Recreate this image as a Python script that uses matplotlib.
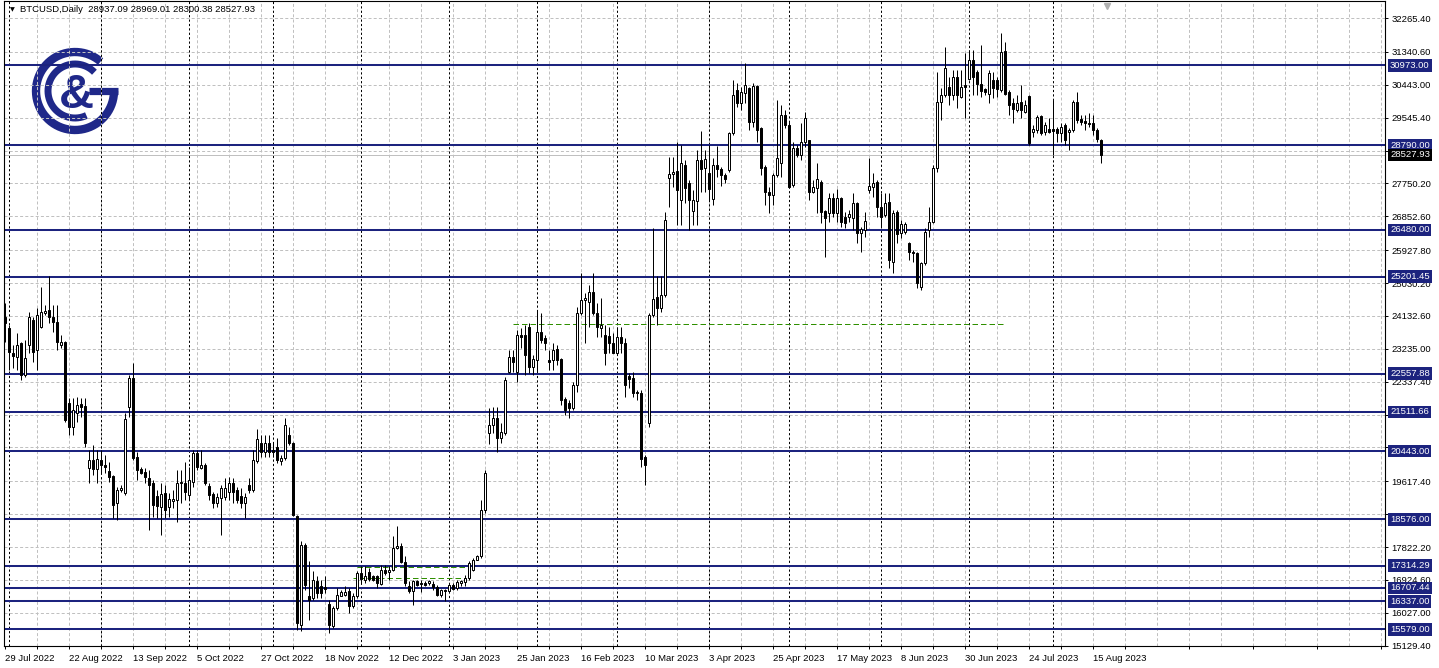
"""BTCUSD daily candlestick chart with horizontal support/resistance levels."""
import matplotlib
matplotlib.use("Agg")
import matplotlib.pyplot as plt
import numpy as np
import pandas as pd

# ---- data -------------------------------------------------------------
first_day = "2022-07-29"   # first bar, weekday bars only

opens = [
    24114, 23796, 23113, 23022, 23386, 22521, 23341, 24023, 23204, 23841,
    24205, 24296, 24114, 23978, 23341, 23432, 21748, 21111, 21475, 21721,
    21675, 19974, 20201, 19946, 20201, 20065, 19910, 19764, 19018, 19382,
    19291, 21657, 22431, 20274, 19946, 19882, 19701, 19564, 19218, 18927,
    19291, 18909, 19091, 19109, 19564, 19582, 19246, 19610, 20383, 19992,
    20065, 19491, 19273, 19036, 19155, 19200, 19337, 19564, 19382, 19218,
    19036, 19519, 19382, 20183, 20656, 20429, 20675, 20474, 20560,
    20158, 20249, 20886, 20676, 18657, 15701, 17884, 16474, 16428, 16883,
    16765, 16729, 16274, 15655, 16155, 16492, 16519, 16610, 16219, 16474,
    17110, 16910, 17129, 17019, 17019, 16819, 17201, 17129, 17201, 17793,
    17857, 17402, 16765, 16610, 16883, 16838, 16838, 16838, 16819, 16729,
    16519, 16638, 16610, 16792, 16701, 16838, 16856, 16974, 17201, 17474,
    17565, 18839, 20931, 21159, 21341, 20795, 20931, 22614, 23023, 22614,
    23610, 23615, 23842, 22751, 22933, 23706, 23524, 22933, 22933,
    23221, 22948, 21856, 21765, 21610, 22248, 24204, 24568, 24523, 24796,
    24204, 23813, 23613, 23585, 23385, 23130, 23549, 23403, 22493, 22430,
    22065, 22020, 20291, 21201, 24159, 24641, 24341, 24705, 27890, 28008,
    28090, 27298, 28244, 27753, 27007, 27280, 28390, 28163, 28044, 27316,
    28244, 28135, 27980, 28117, 29118, 30301, 29937, 30228, 30347, 29437,
    30410, 29255, 28208, 27526, 27435, 27981, 28299, 29619, 29346, 27707,
    28709, 28527, 28891, 28936, 27526, 27617, 27799, 26990,
    26933, 27343, 26933, 27343, 26824, 26824, 26797, 27224, 26405, 26478,
    27570, 27661, 27798, 27115, 26888, 27233, 25614, 26979, 26387, 26432,
    26114, 25887, 25841, 24931, 25568, 26478, 26706, 28162, 29982, 30164,
    30391, 30164, 30664, 30118, 30437, 30591, 31119, 30800, 30464, 30318,
    30191, 30573, 30573, 30300, 31374, 30255, 29954, 29754, 29982, 29709,
    30136, 29163, 29208, 29590, 29163, 29236, 29236, 29236, 29117, 29336,
    29163, 29208, 29982, 29499, 29463, 29390, 29390, 29208, 28937.09,
]
highs = [
    24478, 23887, 23341, 23659, 23432, 23477, 24251, 24114, 24342, 24933,
    24433, 25224, 24433, 24433, 23614, 23459, 21885, 21885, 21930, 21885,
    21885, 20474, 20610, 20474, 20474, 20338, 20156, 19792, 19473, 19519,
    21475, 22522, 22840, 20429, 20019, 19974, 19928, 19655, 19382, 19564,
    19519, 19291, 19382, 19928, 19928, 20156, 20019, 20474, 20474, 20474,
    20110, 19564, 19337, 19309, 19519, 19701, 19746, 19701, 19473, 19428,
    19291, 19701, 20474, 21038, 20884, 20884, 20884, 20656, 20800,
    20340, 21340, 21113, 20704, 18702, 17975, 17929, 17429, 17156, 17019,
    16928, 17019, 16383, 16201, 16701, 16656, 16747, 16701, 16565, 17156,
    17292, 17292, 17247, 17065, 17065, 17338, 17338, 17292, 18111, 18384,
    17929, 17565, 16883, 16929, 16929, 16910, 16883, 16929, 16883, 16792,
    16674, 16674, 16819, 16838, 16929, 16929, 17065, 17429, 17520, 17611,
    19112, 19930, 21613, 21659, 21659, 21204, 22478, 23205, 23205, 23751,
    23800, 23888, 23933, 23069, 24297, 24206, 23615, 23205, 23390,
    23340, 22976, 21929, 21838, 22339, 24386, 25296, 24750, 24978, 25296,
    24477, 24614, 23886, 23840, 23658, 23840, 23840, 23522, 22566, 22612,
    22111, 22111, 20336, 24204, 26525, 25223, 25223, 26980, 28481, 28481,
    28890, 28800, 28390, 27844, 27571, 28663, 29182, 28663, 28800, 28436,
    28772, 28208, 28026, 29164, 30574, 30483, 30392, 31029, 30392, 30483,
    30438, 29300, 28254, 27662, 28026, 30028, 29892, 29755, 29437, 28891,
    28800, 29391, 29710, 28936, 27844, 28299, 27844, 27025,
    27479, 27479, 27600, 27388, 26979, 27024, 27479, 27252, 26569, 26979,
    28435, 28043, 27843, 27479, 27479, 27479, 27024, 27024, 26751, 26706,
    26160, 25932, 25887, 25614, 26523, 27115, 28253, 30800, 30346, 31483,
    30664, 30846, 30846, 30846, 31301, 31392, 31392, 30846, 31529, 30346,
    30846, 30800, 30664, 31847, 31620, 30300, 30073, 30164, 30437, 30027,
    30164, 29345, 29618, 29618, 29436, 29527, 30027, 29299, 29390, 29390,
    29254, 30027, 30255, 29618, 29618, 29663, 29618, 29254, 28969.01,
]
lows = [
    23432, 22658, 22704, 22658, 22385, 22476, 23113, 22886, 22658, 23796,
    24160, 23932, 23705, 23204, 23250, 21248, 20884, 20884, 21248, 21384,
    20565, 19564, 19792, 19564, 19837, 19837, 19610, 18609, 18563, 19337,
    19246, 21384, 20201, 19655, 19819, 19564, 18290, 18654, 18609, 18154,
    18609, 18654, 18882, 18518, 19018, 19109, 19109, 19473, 19928, 19946,
    19519, 19109, 18882, 18927, 18154, 19109, 19109, 19018, 19018, 18882,
    18609, 19291, 19337, 20110, 20292, 20292, 20292, 20292, 20110,
    20067, 20203, 20613, 18657, 15564, 15519, 16656, 15837, 16383, 16428,
    16428, 16565, 15473, 15610, 16110, 16474, 16474, 16019, 16155, 16428,
    16838, 16838, 16883, 16883, 16701, 16792, 17065, 16929, 17156, 17766,
    17383, 16747, 16565, 16246, 16747, 16583, 16747, 16792, 16656, 16474,
    16456, 16337, 16583, 16656, 16656, 16747, 16747, 16929, 17156, 17456,
    17520, 18748, 20640, 20931, 20431, 20658, 20886, 22569, 22614, 22341,
    23250, 22523, 22569, 22523, 22614, 23387, 23205, 22660, 22660,
    22794, 21702, 21429, 21338, 21565, 22065, 24159, 23385, 23840, 24159,
    23567, 23567, 22794, 23112, 23112, 23112, 23112, 21929, 22157, 21929,
    21838, 20018, 19518, 21110, 24113, 23886, 24250, 24641, 27116, 27662,
    26616, 26616, 27207, 26479, 26616, 26616, 27526, 27526, 27298, 27162,
    27935, 27680, 27753, 28072, 29073, 29846, 29755, 29937, 29209, 29300,
    28891, 27981, 27162, 26934, 27162, 27935, 27935, 29255, 27662, 27662,
    28481, 28390, 28754, 27298, 27480, 26934, 26661, 25751,
    26706, 26842, 26700, 26570, 26523, 26706, 26478, 26114, 25887, 26296,
    27479, 27388, 26842, 26569, 26842, 25432, 25295, 26114, 26251, 26369,
    25659, 25614, 24886, 24840, 25523, 26296, 26660, 28071, 29481, 30118,
    29891, 30027, 29800, 30073, 29527, 30573, 30164, 30164, 30118, 30164,
    29936, 30073, 30118, 30255, 30164, 29618, 29390, 29709, 29527, 29663,
    28798, 29026, 29117, 29072, 29072, 29117, 28526, 28890, 28890, 28799,
    28662, 29163, 29390, 29345, 29208, 29299, 29072, 28890, 28300.38,
]
closes = [
    23950, 23159, 23040, 23341, 22521, 22977, 24114, 23159, 24160, 24251,
    24278, 24114, 23978, 23432, 23432, 21293, 21111, 21566, 21703, 21639,
    20656, 20201, 19946, 20219, 20065, 20001, 19746, 18972, 19382, 19428,
    21311, 22431, 20247, 19928, 19855, 19746, 19519, 18972, 18945, 19273,
    18836, 19127, 19127, 19582, 19610, 19337, 19655, 20383, 20001, 20065,
    19564, 19246, 19018, 19200, 19428, 19428, 19564, 19337, 19109, 19018,
    19200, 19382, 20201, 20766, 20429, 20675, 20429, 20429, 20200,
    20249, 21159, 20658, 18702, 15746, 17884, 16792, 16383, 16928, 16565,
    16565, 16674, 15701, 16155, 16519, 16583, 16583, 16201, 16492, 17110,
    16947, 17038, 16947, 16928, 16838, 17201, 17110, 17201, 17793, 17857,
    17402, 16838, 16610, 16883, 16792, 16819, 16792, 16883, 16729, 16519,
    16638, 16620, 16792, 16674, 16856, 16883, 16974, 17383, 17474, 17584,
    18839, 19839, 21159, 21341, 20795, 20977, 22387, 23023, 22887, 23615,
    23560, 23069, 22751, 22951, 23706, 23478, 23387, 22887, 23203,
    22930, 21838, 21565, 21610, 22248, 24204, 24568, 24632, 24796, 24204,
    23840, 23886, 23130, 23385, 23130, 23567, 23403, 22248, 22402, 22038,
    22020, 20218, 20064, 24159, 24586, 24341, 24705, 26752, 28000, 28072,
    27571, 28299, 27617, 27298, 27298, 28390, 28135, 28408, 27589, 28244,
    28135, 27980, 27862, 29118, 30165, 29937, 30256, 30438, 29437, 30410,
    29209, 28163, 27526, 27435, 27981, 28436, 29619, 29346, 27662, 28709,
    28527, 28891, 29528, 27526, 27662, 27871, 26980, 26810,
    27343, 26951, 27343, 26706, 26678, 26915, 27206, 26387, 26496, 26733,
    27688, 27752, 27115, 26842, 27206, 25659, 26933, 26369, 26633, 26633,
    25887, 25841, 25022, 25568, 26433, 26706, 28162, 29982, 30164, 30892,
    30164, 30664, 30164, 30391, 30373, 31119, 30664, 30464, 30282, 30255,
    30773, 30346, 30318, 31347, 30191, 29891, 29772, 29954, 29754, 29891,
    28844, 29226, 29572, 29135, 29345, 29163, 29190, 29117, 29299, 28935,
    29208, 29982, 29481, 29436, 29408, 29372, 29208, 28953, 28527.93,
]

levels = [30973.00, 28790.00, 26480.00, 25201.45, 22557.88, 21511.66,
          20443.00, 18576.00, 17314.29, 16707.44, 16337.00, 15579.00]
price_ticks = [32265.40, 31340.60, 30443.00, 29545.40, 28647.80, 27750.20,
               26852.60, 25927.80, 25030.20, 24132.60, 23235.00, 22337.40,
               21439.80, 20542.20, 19617.40, 18719.80, 17822.20, 16924.60,
               16027.00, 15129.40]
# tick labels fully covered by level boxes in the original
hidden_ticks = [28647.80, 21439.80, 20542.20, 18719.80]
date_labels = ["29 Jul 2022", "22 Aug 2022", "13 Sep 2022", "5 Oct 2022",
               "27 Oct 2022", "18 Nov 2022", "12 Dec 2022", "3 Jan 2023",
               "25 Jan 2023", "16 Feb 2023", "10 Mar 2023", "3 Apr 2023",
               "25 Apr 2023", "17 May 2023", "8 Jun 2023", "30 Jun 2023",
               "24 Jul 2023", "15 Aug 2023"]
# dashed green lines: (first bar, last bar, price)
green_lines = [(127, 250, 23900), (88, 115, 17270), (87, 115, 16975)]
header = "BTCUSD,Daily  28937.09 28969.01 28300.38 28527.93"

NAVY = "#1c237e"
LOGO = "#1f2889"
FONT = "Liberation Sans"
FS = 6.8
W, H = 1439, 668


def main():
    o = np.array(opens, float)
    h = np.array(highs, float)
    l = np.array(lows, float)
    c = np.array(closes, float)
    n = len(o)
    x = np.arange(n)
    dates = pd.bdate_range(first_day, periods=n)

    fig = plt.figure(figsize=(W / 100, H / 100), dpi=100, facecolor="white")

    # logo sits behind the chart (pixel coordinates)
    lax = fig.add_axes([0, 0, 1, 1], zorder=0)
    lax.set_xlim(0, W)
    lax.set_ylim(H, 0)
    lax.axis("off")
    cx, cy = 75, 91
    t = np.radians(np.linspace(49, 360, 200))
    lax.plot(cx + 39 * np.cos(t), cy - 39 * np.sin(t), color=LOGO, lw=6.0,
             solid_capstyle="butt")
    lax.plot([cx + 43, cx + 14], [cy, cy], color=LOGO, lw=5.2,
             solid_capstyle="butt")
    t = np.radians(np.linspace(44, 295, 200))
    lax.plot(cx + 27 * np.cos(t), cy - 27 * np.sin(t), color=LOGO, lw=5.0,
             solid_capstyle="butt")
    lax.text(cx + 1, cy + 5, "&", color=LOGO, fontsize=35, fontweight="bold",
             family=FONT, ha="center", va="center")

    ax = fig.add_axes([4 / W, 22 / H, 1381 / W, 645 / H], zorder=1)
    ax.set_facecolor("none")
    ax.set_xlim(-0.25, 345)
    ax.set_ylim(15121, 32730)

    # grid
    for gx in range(8, 345, 8):
        ax.axvline(gx, color="#c0c0c0", lw=0.72, dashes=(3, 2.2), zorder=1)
    for gy in price_ticks:
        ax.axhline(gy, color="#c0c0c0", lw=0.72, dashes=(3, 2.2), zorder=1)
    # monthly period separators
    month_start = np.where(dates.month[1:] != dates.month[:-1])[0] + 1
    for m in month_start:
        ax.axvline(m, color="black", lw=0.72, dashes=(2.2, 2.2), zorder=1.5)

    # levels
    for v in levels:
        ax.axhline(v, color=NAVY, lw=1.45, zorder=2)
    ax.axhline(c[-1], color="#c0c0c0", lw=0.72, zorder=2)
    for x0, x1, v in green_lines:
        ax.plot([x0, x1], [v, v], color="#2f8f00", lw=0.72, dashes=(5.5, 3),
                zorder=2.2)

    # candles
    ax.vlines(x, l, h, color="black", lw=0.72, zorder=3)
    bottom = np.minimum(o, c)
    height = np.maximum(np.abs(c - o), 1)
    face = np.where(c >= o, "white", "black")
    ax.bar(x, height, bottom=bottom, width=0.55, color=face,
           edgecolor="black", linewidth=0.72, zorder=4)

    # axes styling
    for s in ax.spines.values():
        s.set_color("black")
        s.set_linewidth(0.8)
    ax.yaxis.tick_right()
    ax.set_yticks(price_ticks)
    ax.set_yticklabels(["" if v in hidden_ticks else f"{v:.2f}"
                        for v in price_ticks])
    ax.set_xticks(np.arange(0, 16 * len(date_labels), 16))
    ax.set_xticklabels(date_labels, ha="left")
    ax.set_xticks(np.arange(8, 345, 16), minor=True)
    ax.tick_params(axis="both", which="both", length=2.5, width=0.7,
                   color="black", labelsize=FS, pad=2)
    ax.tick_params(axis="x", pad=3)
    for lab in ax.get_xticklabels() + ax.get_yticklabels():
        lab.set_family(FONT)

    ytr = ax.get_yaxis_transform()
    for v in levels:
        ax.text(1 + 5 / 1381, v, f"{v:.2f}", transform=ytr, color="white",
                fontsize=FS, family=FONT, va="center", ha="left", zorder=10,
                clip_on=False,
                bbox=dict(boxstyle="square,pad=0.2", fc=NAVY, ec="none"))
    ax.text(1 + 5 / 1381, c[-1], f"{c[-1]:.2f}", transform=ytr,
            color="white", fontsize=FS, family=FONT, va="center", ha="left",
            zorder=11, clip_on=False,
            bbox=dict(boxstyle="square,pad=0.2", fc="black", ec="none"))

    # header and chart-shift marker
    fig.text(20 / W, 1 - 10 / H, header, fontsize=FS, family=FONT,
             va="center", ha="left")
    fig.text(12 / W, 1 - 10 / H, "\u25bc", fontsize=4.5, family="DejaVu Sans",
             va="center", ha="center")
    ax.plot([275.5], [0.993], transform=ax.get_xaxis_transform(), marker="v",
            ms=5, color="#b0b0b0", clip_on=False, zorder=5)

    fig.savefig("out.png", dpi=100, facecolor="white")


if __name__ == "__main__":
    main()
